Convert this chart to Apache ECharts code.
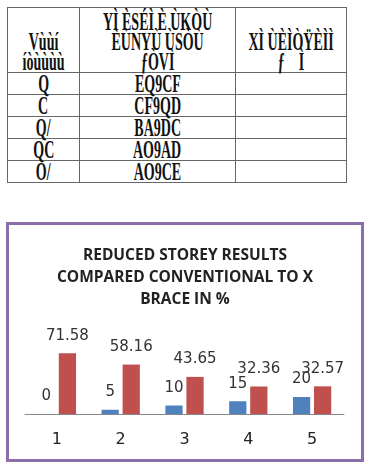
<!DOCTYPE html>
<html lang="en">
<head>
    <meta charset="UTF-8">
    <title>Reduced Storey Results</title>
    <style>
        body { margin: 0; background: #fff; width: 365px; height: 467px; position: relative; overflow: hidden; }
        table { position: absolute; left: 7px; top: 7px; width: 340px; border-collapse: collapse; table-layout: fixed;
                font-family: "Liberation Serif", serif; font-size: 25px; font-weight: bold; color: #111; }
        th, td { border: 1.5px solid #666; text-align: center; padding: 0; white-space: nowrap; overflow: visible; }
        th { height: 64px; vertical-align: bottom; font-weight: bold; line-height: 20px; }
        td { height: 21px; line-height: 21px; }
        .sq { display: inline-block; transform: scaleX(0.56); transform-origin: center; }
        th .sq { margin: 0 -60px; }
        #chart { position: absolute; left: 6px; top: 222px; width: 352px; height: 234px; border: 3px solid #8a6fab; }
    </style>
    <script src="https://cdn.jsdelivr.net/npm/echarts@6/dist/echarts.min.js"></script>
</head>
<body>
    <table id="tbl">
        <tr>
            <th style="width:71px"><span class="sq">Vùùí<br>íòùùùù</span></th>
            <th style="width:155px"><span class="sq">YÌ ÈSÉÌ È ÙKÒÙ<br>ÈÙNYÙ ÙSÒÙ<br>ƒÒVÌ</span></th>
            <th><span class="sq">XÌ ÙÈÌÒŸÈÌÌ<br>ƒ&nbsp;&nbsp;&nbsp;&nbsp;Ì</span></th>
        </tr>
    </table>
    <div id="chart"></div>
    <script>
        // table body (as it appears in the picture)
        var colA = ['Q', 'C', 'Q/', 'QC', 'O/'];
        var colB = ['EQ9CF', 'CF9QD', 'BA9DC', 'AO9AD', 'AO9CE'];

        // chart data
        var storeys = ['1', '2', '3', '4', '5'];
        var xbrace = [0, 5, 10, 15, 20];
        var reduced = [71.58, 58.16, 43.65, 32.36, 32.57];

        var tbl = document.getElementById('tbl');
        for (var i = 0; i < colA.length; i++) {
            var tr = document.createElement('tr');
            [colA[i], colB[i], ''].forEach(function (t) {
                var td = document.createElement('td');
                var sp = document.createElement('span');
                sp.className = 'sq';
                sp.textContent = t;
                td.appendChild(sp);
                tr.appendChild(td);
            });
            tbl.appendChild(tr);
        }

        var chart = echarts.init(document.getElementById('chart'));
        var labelStyle = {
            show: true,
            position: 'top',
            distance: 10,
            fontFamily: 'DejaVu Sans',
            fontSize: 15,
            color: '#333'
        };
        chart.setOption({
            animation: false,
            title: {
                text: 'REDUCED STOREY RESULTS\nCOMPARED CONVENTIONAL TO X\nBRACE IN %',
                left: 'center',
                top: 15,
                textStyle: {
                    fontFamily: 'Open Sans',
                    fontSize: 15.5,
                    fontWeight: 'bold',
                    lineHeight: 22,
                    color: '#222'
                }
            },
            grid: { left: 16, right: 17, top: 121, bottom: 45 },
            xAxis: {
                type: 'category',
                data: storeys,
                axisLine: { lineStyle: { color: '#888', width: 1 } },
                axisTick: { show: false },
                axisLabel: { margin: 18, fontFamily: 'DejaVu Sans', fontSize: 16, color: '#222' }
            },
            yAxis: {
                type: 'value',
                min: 0,
                max: 80,
                show: false,
                splitLine: { show: false }
            },
            series: [
                {
                    type: 'bar',
                    data: xbrace,
                    barGap: '22%',
                    barCategoryGap: '40%',
                    itemStyle: { color: '#4f81bd' },
                    label: labelStyle
                },
                {
                    type: 'bar',
                    data: reduced,
                    itemStyle: { color: '#c0504d' },
                    label: labelStyle
                }
            ]
        });
    </script>
</body>
</html>
